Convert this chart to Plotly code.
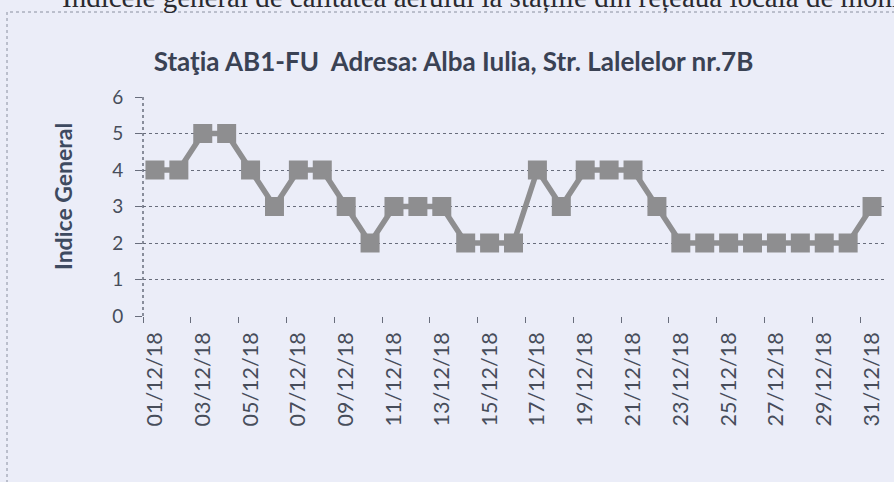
import plotly.graph_objects as go

dates = [f"{d:02d}/12/18" for d in range(1, 32)]
indice = [4, 4, 5, 5, 4, 3, 4, 4, 3, 2, 3, 3, 3, 2, 2, 2, 4, 3, 4, 4, 4, 3, 2, 2, 2, 2, 2, 2, 2, 2, 3]

title_text = "Staţia AB1-FU  Adresa: Alba Iulia, Str. Lalelelor nr.7B"
y_title = "Indice General"
doc_text = "Indicele general de calitatea aerului la stațiile din rețeaua locală de monitorizare"

bg = "#ebedf8"
grid = "#686d7c"
txt = "#474d5b"

fig = go.Figure()
fig.add_trace(go.Scatter(
    x=dates, y=indice, mode="lines+markers",
    line=dict(color="#8e8e90", width=5.5),
    marker=dict(symbol="square", size=19, color="#8e8e90"),
    showlegend=False,
))

W, H = 894, 482
L, R, T, B = 143, 10, 97, 166
pw, ph = W - L - R, H - T - B

def px(xp):
    return (xp - L) / pw

def py(yp):
    return (H - B - yp) / ph

fig.update_layout(
    width=W, height=H,
    margin=dict(l=L, r=R, t=T, b=B, autoexpand=False),
    paper_bgcolor=bg, plot_bgcolor=bg,
    font=dict(family="Lato, 'Open Sans', sans-serif", color=txt),
    title=dict(text=f"<b>{title_text}</b>", x=453.5 / W, xref="container", xanchor="center",
               y=1 - 62 / H, yanchor="middle",
               font=dict(size=26, color="#3a4254", family="Lato, sans-serif")),
    xaxis=dict(
        type="category", range=[-0.5, 30.5],
        tickangle=-90, dtick=2, tickson="boundaries",
        ticks="outside", ticklen=6, tickcolor=grid, tickwidth=1,
        showgrid=False, showline=False, zeroline=False,
        tickfont=dict(size=21.5, color=txt), ticklabelstandoff=11,
    ),
    yaxis=dict(
        range=[0, 6], dtick=1, tick0=0,
        ticks="outside", ticklen=7, tickcolor=grid, tickwidth=1,
        showgrid=True, gridcolor=grid, gridwidth=1.3, griddash="dot",
        showline=False, zeroline=False,
        tickfont=dict(size=19, color=txt), ticklabelstandoff=8,
    ),
    shapes=[
        dict(type="line", xref="paper", yref="paper", x0=0, x1=0, y0=0, y1=1,
             line=dict(color=grid, width=1.5, dash="dot")),
        dict(type="rect", xref="paper", yref="paper",
             x0=px(7), x1=px(920), y0=py(520), y1=py(12),
             line=dict(color="#8a90a0", width=1, dash="dot")),
    ],
    annotations=[
        dict(text=f"<b>{y_title}</b>", xref="paper", yref="paper",
             x=px(63), y=py(197), textangle=-90, showarrow=False,
             xanchor="center", yanchor="middle",
             font=dict(size=23, color="#3e4a60", family="Lato, sans-serif")),
        dict(text=doc_text, xref="paper", yref="paper",
             x=px(60), y=py(15), xanchor="left", yanchor="bottom", showarrow=False,
             font=dict(size=29, color="#2a2a30", family="'Liberation Serif', serif")),
    ],
)

fig.write_html("out.html", config={"displayModeBar": False},
               post_script="document.body.style.margin='0';document.body.style.overflow='hidden';")
